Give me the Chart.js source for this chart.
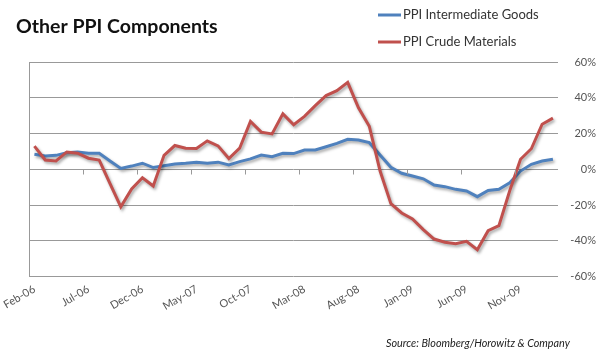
<!DOCTYPE html>
<html>
<head>
<meta charset="utf-8">
<script src="https://cdn.jsdelivr.net/npm/chart.js@4"></script>
<style>
  html, body { margin: 0; padding: 0; background: #fff; }
  canvas { display: block; }
</style>
</head>
<body>
<canvas id="ppi" width="610" height="359"></canvas>
<script>
// monthly, Feb-06 .. Feb-10, year-over-year % change
const months = [
  "Feb-06", "Mar-06", "Apr-06", "May-06", "Jun-06", "Jul-06", "Aug-06", "Sep-06", "Oct-06", "Nov-06", "Dec-06", "Jan-07",
  "Feb-07", "Mar-07", "Apr-07", "May-07", "Jun-07", "Jul-07", "Aug-07", "Sep-07", "Oct-07", "Nov-07", "Dec-07", "Jan-08",
  "Feb-08", "Mar-08", "Apr-08", "May-08", "Jun-08", "Jul-08", "Aug-08", "Sep-08", "Oct-08", "Nov-08", "Dec-08", "Jan-09",
  "Feb-09", "Mar-09", "Apr-09", "May-09", "Jun-09", "Jul-09", "Aug-09", "Sep-09", "Oct-09", "Nov-09", "Dec-09", "Jan-10",
  "Feb-10",
];
const intermediateGoods = [
  8.4, 7.5, 7.8, 9.3, 9.7, 9.0, 9.0, 4.7, 0.5, 1.8,
  3.4, 1.0, 2.0, 3.0, 3.4, 4.0, 3.4, 4.0, 2.4, 4.3,
  5.8, 8.0, 7.1, 9.0, 8.8, 10.8, 10.8, 12.6, 14.5, 16.8,
  16.4, 14.9, 8.0, 1.1, -2.2, -3.7, -5.3, -8.8, -9.7, -11.2,
  -12.1, -15.3, -11.8, -11.2, -7.5, -1.0, 2.8, 4.6, 5.6,
];
const crudeMaterials = [
  13.0, 5.2, 4.7, 9.7, 9.0, 6.2, 5.2, -8.0, -21.0, -11.0,
  -4.7, -9.3, 7.8, 13.3, 11.8, 11.6, 15.9, 13.1, 6.0, 11.8,
  26.8, 20.8, 19.8, 31.0, 24.9, 29.6, 35.6, 41.2, 44.0, 48.6,
  34.4, 24.1, -1.0, -19.2, -24.4, -27.7, -33.7, -39.0, -40.8, -41.6,
  -40.3, -45.0, -34.3, -31.5, -12.0, 5.6, 11.5, 25.2, 28.6,
];
const yTicks = [-60, -40, -20, 0, 20, 40, 60];
const labelEvery = 5;

const BLUE = "#4F81BD";
const RED = "#C0504D";
const GRID = "#999";
const FONT = "Lato, 'Open Sans', sans-serif";

// Excel-style soft shadow under each line
const lineShadow = {
  id: "lineShadow",
  beforeDatasetDraw(chart) {
    const ctx = chart.ctx;
    ctx.save();
    ctx.shadowColor = "rgba(0,0,0,0.35)";
    ctx.shadowBlur = 3;
    ctx.shadowOffsetX = 1.5;
    ctx.shadowOffsetY = 2;
  },
  afterDatasetDraw(chart) {
    chart.ctx.restore();
  },
};

// title, legend, source note and the small tick marks on the 0% line
const decorations = {
  id: "decorations",
  afterDraw(chart) {
    const ctx = chart.ctx;
    const x = chart.scales.x;
    const y = chart.scales.y;
    ctx.save();

    ctx.strokeStyle = GRID;
    ctx.lineWidth = 1;
    const y0 = Math.round(y.getPixelForValue(0)) + 0.5;
    for (let i = labelEvery; i < months.length; i += labelEvery) {
      const px = Math.round((x.getPixelForValue(i - 1) + x.getPixelForValue(i)) / 2) + 0.5;
      ctx.beginPath();
      ctx.moveTo(px, y0);
      ctx.lineTo(px, y0 + 5);
      ctx.stroke();
    }

    ctx.fillStyle = "#111";
    ctx.font = "bold 19.5px " + FONT;
    ctx.textBaseline = "alphabetic";
    ctx.fillText("Other PPI Components", 16, 33);

    const items = [
      { label: "PPI Intermediate Goods", color: BLUE, y: 15 },
      { label: "PPI Crude Materials", color: RED, y: 42 },
    ];
    ctx.font = "13px " + FONT;
    ctx.textBaseline = "middle";
    items.forEach((it) => {
      ctx.strokeStyle = it.color;
      ctx.lineWidth = 3;
      ctx.beginPath();
      ctx.moveTo(378, it.y);
      ctx.lineTo(401, it.y);
      ctx.stroke();
      ctx.fillStyle = "#333";
      ctx.fillText(it.label, 403, it.y);
    });

    ctx.font = "italic 10.8px " + FONT;
    ctx.fillStyle = "#222";
    ctx.textBaseline = "alphabetic";
    ctx.fillText("Source: Bloomberg/Horowitz & Company", 386, 347);
    ctx.restore();
  },
};

new Chart(document.getElementById("ppi").getContext("2d"), {
  type: "line",
  data: {
    labels: months,
    datasets: [
      {
        label: "PPI Intermediate Goods",
        data: intermediateGoods,
        borderColor: BLUE,
        borderWidth: 3,
        pointRadius: 0,
        tension: 0,
        order: 1,
      },
      {
        label: "PPI Crude Materials",
        data: crudeMaterials,
        borderColor: RED,
        borderWidth: 3,
        pointRadius: 0,
        tension: 0,
        order: 0,
      },
    ],
  },
  options: {
    responsive: false,
    animation: false,
    devicePixelRatio: 1,
    layout: { padding: { left: 29, right: 14, top: 62, bottom: 40 } },
    scales: {
      x: {
        offset: true,
        border: { display: false },
        afterFit: (s) => { s.paddingLeft = 0; s.paddingRight = 0; },
        grid: {
          offset: true,
          drawTicks: false,
          color: (c) => (c.index === 0 ? GRID : "rgba(0,0,0,0)"),
        },
        ticks: {
          autoSkip: false,
          maxRotation: 30,
          minRotation: 30,
          padding: 6,
          color: "#555",
          font: { family: FONT, size: 11 },
          callback: (v, i) => (i % labelEvery === 0 ? months[i] : ""),
        },
      },
      y: {
        position: "right",
        min: -60,
        max: 60,
        afterBuildTicks: (axis) => { axis.ticks = yTicks.map((v) => ({ value: v })); },
        border: { display: false },
        grid: { color: GRID, drawTicks: false },
        ticks: {
          padding: 6,
          crossAlign: "far",
          color: "#555",
          font: { family: FONT, size: 11 },
          callback: (v) => v + "%",
        },
      },
    },
    plugins: {
      legend: { display: false },
      tooltip: { enabled: false },
    },
  },
  plugins: [lineShadow, decorations],
});
</script>
</body>
</html>
